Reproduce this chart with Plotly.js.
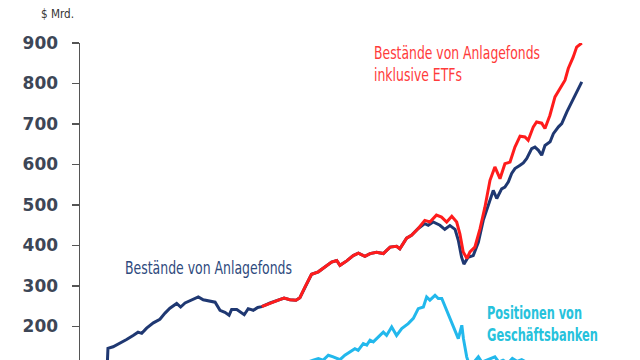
<!DOCTYPE html>
<html>
<head>
<meta charset="utf-8">
<script src="https://cdn.plot.ly/plotly-3.0.1.min.js"></script>
<style>
html, body { margin:0; padding:0; background:#fff; overflow:hidden; width:640px; height:360px; }
#chart { width:640px; height:400px; }
</style>
</head>
<body>
<div id="chart"></div>
<script>
// Bestände von Anlagefonds (dark blue), $ Mrd.
const fundYears = [1993.60,1993.64,1993.86,1994.16,1994.44,1994.72,1994.93,1995.09,1995.30,1995.59,1995.87,1996.09,1996.30,1996.59,1996.76,1996.95,1997.24,1997.52,1997.73,1998.02,1998.24,1998.45,1998.66,1998.84,1998.95,1999.17,1999.38,1999.49,1999.66,1999.88,2000.07,2000.24,2000.60,2000.95,2001.20,2001.45,2001.71,2001.88,2002.10,2002.38,2002.67,2002.96,2003.24,2003.46,2003.60,2003.89,2004.17,2004.39,2004.67,2004.89,2005.17,2005.46,2005.75,2006.03,2006.17,2006.46,2006.67,2006.96,2007.24,2007.39,2007.60,2007.89,2008.10,2008.32,2008.54,2008.68,2008.82,2008.92,2009.10,2009.32,2009.54,2009.75,2009.97,2010.18,2010.33,2010.54,2010.68,2010.83,2010.97,2011.11,2011.33,2011.47,2011.62,2011.83,2011.97,2012.12,2012.26,2012.40,2012.62,2012.76,2012.98,2013.12,2013.34,2013.55,2013.69,2013.98];
const fundValues = [90,146,150,159,168,178,186,183,196,209,218,233,245,257,248,258,265,273,266,263,260,240,235,228,242,242,233,229,244,240,247,249,258,265,270,266,265,271,298,329,335,347,359,363,351,362,375,381,373,380,383,380,396,398,392,418,425,442,454,450,458,450,440,449,440,413,371,354,371,375,408,462,502,536,516,540,544,557,578,590,598,604,615,639,643,635,623,647,656,676,693,701,730,754,771,804];

// Bestände von Anlagefonds inklusive ETFs (red)
const etfYears = [2000.24,2000.60,2000.95,2001.20,2001.45,2001.71,2001.88,2002.10,2002.38,2002.67,2002.96,2003.24,2003.46,2003.60,2003.89,2004.17,2004.39,2004.67,2004.89,2005.17,2005.46,2005.75,2006.03,2006.17,2006.46,2006.67,2006.96,2007.24,2007.46,2007.74,2007.96,2008.18,2008.40,2008.61,2008.75,2008.89,2009.05,2009.18,2009.39,2009.61,2009.82,2010.04,2010.25,2010.47,2010.68,2010.90,2011.11,2011.33,2011.54,2011.68,2011.90,2012.04,2012.26,2012.40,2012.61,2012.83,2013.04,2013.26,2013.40,2013.61,2013.76,2013.98];
const etfValues = [249,258,265,270,266,265,271,298,329,335,347,359,363,351,362,375,381,373,380,383,380,396,398,392,418,425,442,462,458,475,470,458,472,458,428,384,368,384,396,441,494,561,594,565,602,606,643,670,668,660,693,705,702,689,721,767,787,808,837,865,890,900];

// Positionen von Geschäftsbanken (light blue)
const bankYears = [2001.50,2001.88,2002.45,2002.67,2002.88,2003.10,2003.31,2003.60,2003.81,2004.03,2004.24,2004.38,2004.60,2004.75,2004.89,2005.03,2005.24,2005.46,2005.60,2005.82,2006.03,2006.25,2006.53,2006.75,2006.96,2007.18,2007.32,2007.46,2007.68,2007.82,2007.97,2008.18,2008.40,2008.61,2008.68,2008.83,2008.90,2009.04,2009.18,2009.35,2009.54,2009.69,2009.90,2010.08,2010.25,2010.42,2010.60,2010.80,2011.00,2011.20,2011.40,2011.60,2011.80,2012.20,2012.80,2013.40,2013.98];
const bankValues = [100,105,117,121,117,129,125,118,129,137,145,141,158,154,166,162,174,186,178,199,178,195,207,220,244,248,273,265,277,269,269,240,211,183,170,203,170,125,100,112,125,112,117,121,125,112,117,109,121,114,118,112,102,95,98,92,96];

const yTicks = [100,200,300,400,500,600,700,800,900];
const unitLabel = '$ Mrd.';
const fundLabel = 'Bestände von Anlagefonds';
const etfLabel = 'Bestände von Anlagefonds<br>inklusive ETFs';
const bankLabel = 'Positionen von<br>Geschäftsbanken';

const narrow = '"DejaVu Sans Condensed", "DejaVu Sans", sans-serif';
// condensed widths (px) of each label line, to mimic the narrow typeface
const labelWidths = [[33], [167], [166, 88], [95, 111]];

const traces = [
  {x: fundYears, y: fundValues, type:'scatter', mode:'lines', line:{color:'#1f3872', width:3}, hoverinfo:'skip'},
  {x: etfYears, y: etfValues, type:'scatter', mode:'lines', line:{color:'#ff1c1c', width:3}, hoverinfo:'skip'},
  {x: bankYears, y: bankValues, type:'scatter', mode:'lines', line:{color:'#22b8ec', width:3}, hoverinfo:'skip'}
];

const layout = {
  width:640, height:400,
  margin:{l:80, r:10, t:43, b:0},
  paper_bgcolor:'#ffffff', plot_bgcolor:'#ffffff',
  showlegend:false,
  xaxis:{range:[1992.44, 2016.05], visible:false, fixedrange:true},
  yaxis:{
    range:[18.5, 900], tickvals:yTicks, ticktext:yTicks.map(String),
    showline:true, linecolor:'#555', linewidth:1.5,
    ticks:'outside', ticklen:7, tickwidth:1.5, tickcolor:'#555',
    showgrid:false, zeroline:false, fixedrange:true,
    ticklabelstandoff:10,
    tickfont:{family:'"DejaVu Sans", sans-serif', size:17, color:'#3d4656', weight:'bold'}
  },
  annotations:[
    {xref:'paper', yref:'paper', x:-0.078, y:1.084, xanchor:'left', yanchor:'middle', showarrow:false,
     text:unitLabel, font:{family:narrow, size:13, color:'#333'}},
    {x:1994.29, y:344, xanchor:'left', yanchor:'middle', showarrow:false, align:'left',
     text:fundLabel, font:{family:narrow, size:17, color:'#2e4a7d'}},
    {x:2004.97, y:847, xanchor:'left', yanchor:'middle', showarrow:false, align:'left',
     text:etfLabel, font:{family:narrow, size:17, color:'#ff3b3b'}},
    {x:2009.82, y:207, xanchor:'left', yanchor:'middle', showarrow:false, align:'left',
     text:bankLabel, font:{family:narrow, size:17, color:'#27c2dc', weight:'bold'}}
  ]
};

Plotly.newPlot('chart', traces, layout, {displayModeBar:false, staticPlot:true}).then(function(gd){
  const texts = gd.querySelectorAll('.annotation-text');
  texts.forEach(function(t, i){
    const w = labelWidths[i];
    if (!w) return;
    const lines = t.querySelectorAll('tspan.line');
    if (lines.length) {
      lines.forEach(function(ln, j){
        if (w[j]) { ln.setAttribute('textLength', w[j]); ln.setAttribute('lengthAdjust', 'spacingAndGlyphs'); }
      });
    } else {
      t.setAttribute('textLength', w[0]);
      t.setAttribute('lengthAdjust', 'spacingAndGlyphs');
    }
  });
});
</script>
</body>
</html>
